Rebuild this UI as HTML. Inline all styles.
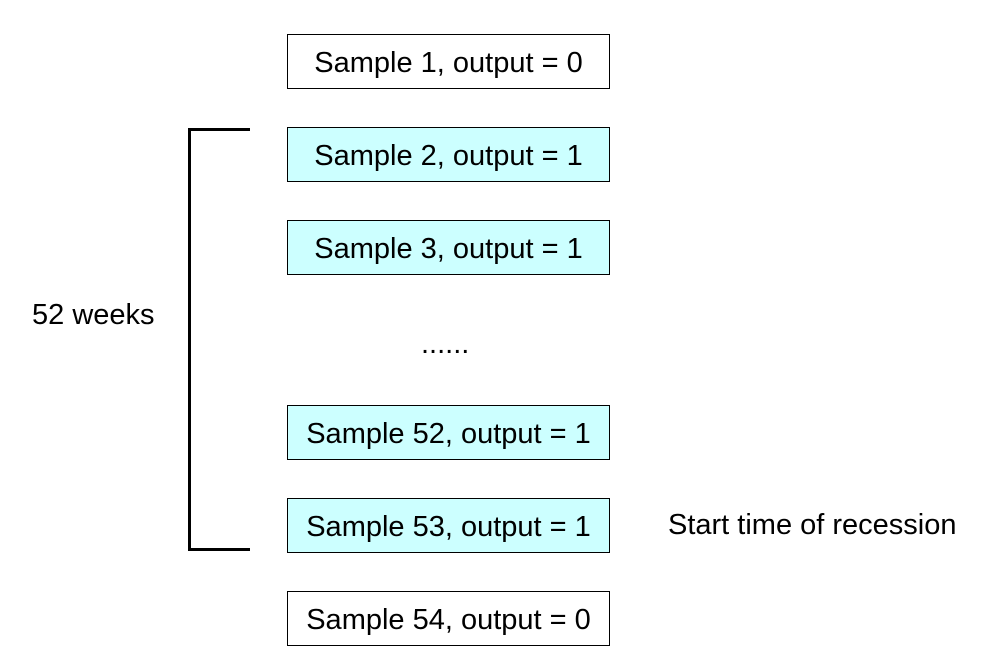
<!DOCTYPE html>
<html><head><style>
body{margin:0;width:1002px;height:668px;background:#fff;font-family:"Liberation Sans",Arial,sans-serif;position:relative;overflow:hidden}
.b{position:absolute;left:287px;width:321px;height:53px;border:1px solid #000;font-size:29px;line-height:57px;text-align:center;color:#000;overflow:hidden}
.c{background:#ccffff}
.t{position:absolute;font-size:29px;color:#000;white-space:nowrap}
</style></head><body>
<div class="b" style="top:34px">Sample 1, output = 0</div>
<div class="b c" style="top:127px">Sample 2, output = 1</div>
<div class="b c" style="top:220px">Sample 3, output = 1</div>
<div class="t" style="left:421px;top:328px">......</div>
<div class="b c" style="top:405px">Sample 52, output = 1</div>
<div class="b c" style="top:498px">Sample 53, output = 1</div>
<div class="b" style="top:591px">Sample 54, output = 0</div>
<div class="t" style="left:668px;top:509px">Start time of recession</div>
<div class="t" style="left:32px;top:299px">52 weeks</div>
<div style="position:absolute;left:188px;top:128px;width:59px;height:417px;border:3px solid #000;border-right:none;box-sizing:content-box"></div>
</body></html>
